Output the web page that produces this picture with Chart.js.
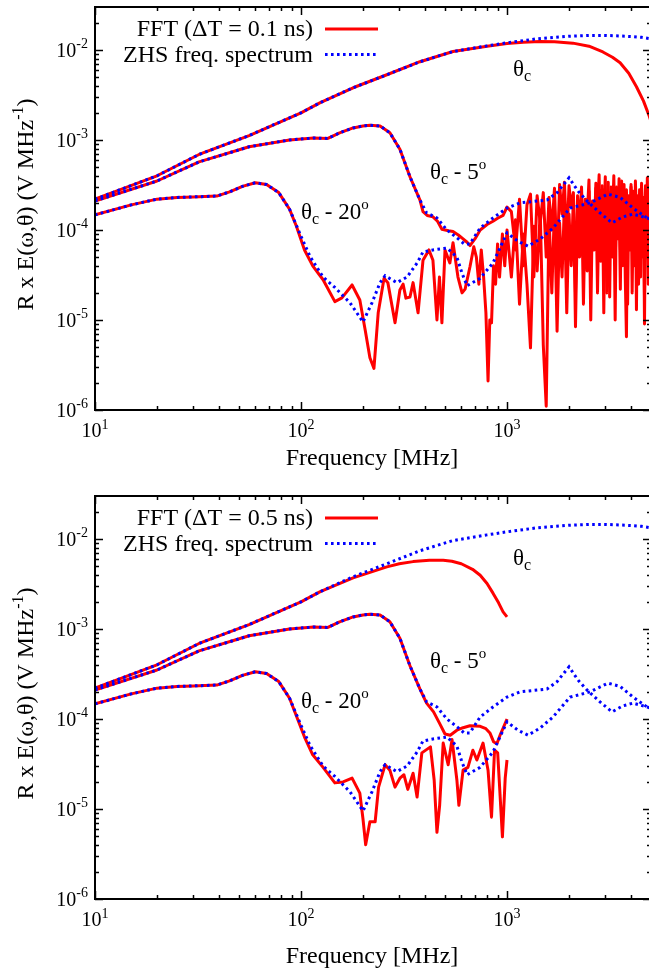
<!DOCTYPE html>
<html>
<head>
<meta charset="utf-8">
<script src="https://cdn.jsdelivr.net/npm/chart.js@4.4.1/dist/chart.umd.min.js"></script>
<style>
  html, body { margin: 0; padding: 0; background: #fff; overflow: hidden; }
  canvas { display: block; }
</style>
</head>
<body>
<canvas id="top" width="660" height="485"></canvas>
<canvas id="bottom" width="660" height="486"></canvas>
<script>
// ZHS frequency spectra (same in both panels)
const zhsFreqC = [10, 20, 32, 56, 100, 124, 179, 261, 378, 547, 800, 1000, 1400, 2000, 2500, 3000, 3500, 4000, 4500, 5000];
const zhsC = [2.2e-4, 4.0e-4, 6.9e-4, 1.12e-3, 2.0e-3, 2.6e-3, 3.8e-3, 5.3e-3, 7.4e-3, 9.6e-3, 1.11e-2, 1.2e-2, 1.33e-2, 1.42e-2, 1.45e-2, 1.45e-2, 1.43e-2, 1.41e-2, 1.38e-2, 1.33e-2];

const zhsFreq5 = [10, 20, 32, 56, 88, 115, 135, 154, 179, 200, 216, 242, 270, 302, 338, 378, 407, 457, 511, 571, 620, 660, 740, 855, 1000, 1156, 1563, 1750, 2000, 2213, 2445, 2826, 3235, 3656, 4093, 4786, 5000];
const zhs5 = [2.1e-4, 3.5e-4, 5.7e-4, 8.4e-4, 1.0e-3, 1.05e-3, 1.04e-3, 1.2e-3, 1.36e-3, 1.43e-3, 1.46e-3, 1.43e-3, 1.2e-3, 7.9e-4, 3.9e-4, 2.15e-4, 1.55e-4, 1.36e-4, 1.0e-4, 8.2e-5, 7.0e-5, 7.0e-5, 1.05e-4, 1.36e-4, 1.75e-4, 2.0e-4, 2.15e-4, 2.6e-4, 3.8e-4, 2.7e-4, 2.1e-4, 1.55e-4, 1.2e-4, 1.4e-4, 1.5e-4, 1.36e-4, 1.3e-4];

const zhsFreq20 = [10, 15, 20, 25, 30, 39, 45, 52, 60, 68, 78, 88, 100, 111, 128, 146, 173, 200, 221, 242, 256, 292, 327, 366, 391, 437, 511, 571, 605, 640, 740, 855, 1000, 1130, 1265, 1445, 1671, 2023, 2530, 3090, 3540, 4093, 4786, 5000];
const zhs20 = [1.47e-4, 1.9e-4, 2.2e-4, 2.3e-4, 2.33e-4, 2.38e-4, 2.65e-4, 3.05e-4, 3.35e-4, 3.2e-4, 2.6e-4, 1.7e-4, 8.5e-5, 5.0e-5, 3.0e-5, 2.3e-5, 1.55e-5, 9.5e-6, 1.55e-5, 2.6e-5, 3.1e-5, 2.6e-5, 3.0e-5, 4.3e-5, 5.7e-5, 6.0e-5, 6.3e-5, 5.0e-5, 3.3e-5, 2.4e-5, 2.9e-5, 4.3e-5, 9.3e-5, 7.5e-5, 6.6e-5, 7.9e-5, 1.05e-4, 1.75e-4, 2.0e-4, 2.5e-4, 2.3e-4, 1.75e-4, 1.36e-4, 1.35e-4];

// FFT, dT = 0.1 ns (top panel)
const fftFreqC1 = [10, 20, 32, 56, 100, 124, 179, 261, 378, 547, 800, 1000, 1200, 1445, 1700, 2090, 2500, 2920, 3250, 3540, 3900, 4250, 4600, 4900, 5000];
const fftC1 = [2.2e-4, 4.0e-4, 6.9e-4, 1.12e-3, 2.0e-3, 2.6e-3, 3.8e-3, 5.3e-3, 7.4e-3, 9.6e-3, 1.1e-2, 1.18e-2, 1.22e-2, 1.24e-2, 1.23e-2, 1.19e-2, 1.1e-2, 9.5e-3, 8.3e-3, 7.2e-3, 5.5e-3, 3.9e-3, 2.7e-3, 1.85e-3, 1.6e-3];

const fftFreq5a = [10, 20, 32, 56, 88, 115, 135, 154, 179, 200, 216, 242, 270, 302, 338, 378, 391, 410, 437, 460, 483, 520, 547, 580, 610, 640, 661, 700, 741, 800, 855, 900, 957, 1000];
const fft5a = [2.1e-4, 3.5e-4, 5.7e-4, 8.4e-4, 1.0e-3, 1.05e-3, 1.04e-3, 1.2e-3, 1.36e-3, 1.43e-3, 1.46e-3, 1.43e-3, 1.2e-3, 7.9e-4, 3.9e-4, 2.15e-4, 1.6e-4, 1.45e-4, 1.4e-4, 1.25e-4, 1.02e-4, 9.8e-5, 9.6e-5, 8.8e-5, 8.0e-5, 7.3e-5, 6.7e-5, 8.0e-5, 1.0e-4, 1.15e-4, 1.25e-4, 1.35e-4, 1.45e-4, 1.8e-4];

const fftFreq20a = [10, 15, 20, 25, 30, 39, 45, 52, 60, 68, 78, 88, 95, 104, 114, 128, 146, 158, 177, 193, 205, 216, 226, 237, 253, 264, 286, 302, 313, 323, 338, 350, 370, 391, 418, 437, 457, 470, 483, 500, 528, 547, 578, 605, 626, 661, 690, 710, 730, 750, 770, 790, 809, 825, 841, 860, 880, 900, 920, 950, 975, 1000];
const fft20a = [1.47e-4, 1.9e-4, 2.2e-4, 2.3e-4, 2.33e-4, 2.38e-4, 2.65e-4, 3.05e-4, 3.35e-4, 3.2e-4, 2.6e-4, 1.7e-4, 1.1e-4, 6.0e-5, 4.0e-5, 2.8e-5, 1.6e-5, 1.76e-5, 2.45e-5, 1.67e-5, 7.7e-6, 3.8e-6, 2.9e-6, 1.2e-5, 2.9e-5, 2.6e-5, 9.3e-6, 2.15e-5, 2.5e-5, 1.75e-5, 1.8e-5, 2.6e-5, 1.2e-5, 4.6e-5, 6.0e-5, 4.6e-5, 1.0e-5, 3.0e-5, 9.3e-6, 6.0e-5, 4.3e-5, 7.2e-5, 3.0e-5, 2.0e-5, 2.2e-5, 3.9e-5, 6.5e-5, 5.0e-5, 2.5e-5, 6.0e-5, 3.0e-5, 1.2e-5, 2.1e-6, 1.0e-5, 9.3e-6, 4.0e-5, 2.5e-5, 7.0e-5, 3.0e-5, 9.0e-5, 4.0e-5, 1.0e-4];

// high-frequency part of the 0.1 ns FFT (noisy)
const hfFreq = [1050, 1100, 1150, 1200, 1250, 1300, 1350, 1400, 1450, 1500, 1550, 1600, 1650, 1700, 1750, 1800, 1850, 1900, 1950, 2000,
  2050, 2100, 2150, 2200, 2250, 2300, 2350, 2400, 2450, 2500, 2550, 2600, 2650, 2700, 2750, 2800, 2850, 2900, 2950, 3000,
  3050, 3100, 3150, 3200, 3250, 3300, 3350, 3400, 3450, 3500, 3550, 3600, 3650, 3700, 3750, 3800, 3850, 3900, 3950, 4000,
  4050, 4100, 4150, 4200, 4250, 4300, 4350, 4400, 4450, 4500, 4550, 4600, 4650, 4700, 4750, 4800, 4850, 4900, 4950, 5000];
const hf5 = [1.6e-4, 6.0e-5, 2.2e-4, 4.0e-5, 1.9e-4, 2.5e-4, 3.0e-5, 2.4e-4, 1.2e-4, 2.6e-4, 5.0e-5, 2.3e-4, 1.0e-4, 2.9e-4, 4.0e-5, 3.2e-4, 1.5e-4, 3.4e-4, 7.0e-5, 3.1e-4,
  1.8e-4, 2.6e-4, 2.0e-5, 2.4e-4, 1.1e-4, 3.0e-4, 6.0e-5, 2.2e-4, 1.4e-4, 3.6e-4, 3.0e-5, 2.0e-4, 9.0e-5, 3.3e-4, 1.6e-4, 4.1e-4, 5.0e-5, 2.8e-4, 1.2e-4, 3.9e-4,
  2.0e-5, 2.5e-4, 8.0e-5, 3.0e-4, 1.3e-4, 4.0e-4, 4.0e-5, 2.2e-4, 1.0e-4, 3.7e-4, 6.0e-5, 2.6e-4, 1.5e-4, 3.2e-4, 3.0e-5, 6.5e-6, 1.8e-4, 2.4e-4, 7.0e-5, 3.0e-4,
  1.1e-4, 2.7e-4, 4.0e-5, 3.5e-4, 1.4e-4, 2.1e-4, 2.5e-5, 2.8e-4, 9.0e-5, 3.3e-4, 5.0e-5, 2.3e-4, 9.0e-6, 2.6e-4, 1.2e-4, 3.8e-4, 6.0e-5, 2.5e-4, 1.0e-4, 2.0e-4];
const hf20 = [3.0e-5, 1.3e-4, 1.5e-5, 9.0e-5, 2.5e-5, 4.9e-6, 1.1e-4, 3.5e-5, 1.6e-4, 5.3e-6, 1.1e-6, 1.4e-4, 2.0e-5, 1.8e-4, 7.5e-6, 1.2e-4, 3.0e-5, 2.0e-4, 1.2e-5, 1.5e-4,
  4.0e-5, 2.3e-4, 8.4e-6, 1.7e-4, 5.0e-5, 2.5e-4, 1.5e-5, 1.9e-4, 3.5e-5, 2.7e-4, 1.0e-5, 2.1e-4, 6.0e-5, 2.9e-4, 2.0e-5, 2.2e-4, 4.5e-5, 3.1e-4, 1.2e-5, 2.4e-4,
  7.0e-5, 3.4e-4, 1.8e-5, 2.6e-4, 5.0e-5, 2.0e-4, 1.0e-5, 3.0e-4, 8.0e-5, 2.3e-4, 2.2e-5, 3.5e-4, 4.0e-5, 1.9e-4, 1.1e-4, 2.8e-4, 1.5e-5, 2.1e-4, 6.0e-5, 3.2e-4,
  2.0e-5, 1.6e-4, 9.0e-5, 2.6e-4, 1.3e-5, 2.4e-4, 7.0e-5, 1.8e-4, 3.0e-5, 2.9e-4, 1.1e-4, 2.0e-4, 1.8e-5, 3.1e-4, 5.0e-5, 1.9e-4, 2.5e-5, 2.7e-4, 8.0e-5, 1.6e-4];

// FFT, dT = 0.5 ns (bottom panel, ends at 1 GHz)
const fftFreqC2 = [10, 20, 32, 56, 100, 124, 179, 261, 300, 350, 420, 490, 540, 600, 680, 741, 800, 855, 910, 957, 1000];
const fftC2 = [2.2e-4, 4.0e-4, 6.9e-4, 1.12e-3, 2.0e-3, 2.6e-3, 3.7e-3, 4.9e-3, 5.3e-3, 5.6e-3, 5.8e-3, 5.8e-3, 5.65e-3, 5.3e-3, 4.6e-3, 3.95e-3, 3.2e-3, 2.5e-3, 1.95e-3, 1.55e-3, 1.36e-3];

const fftFreq5b = [10, 20, 32, 56, 88, 115, 135, 154, 179, 200, 216, 242, 270, 302, 338, 378, 407, 440, 470, 500, 530, 571, 612, 661, 741, 790, 826, 860, 893, 930, 960, 1000];
const fft5b = [2.1e-4, 3.5e-4, 5.7e-4, 8.4e-4, 1.0e-3, 1.05e-3, 1.04e-3, 1.2e-3, 1.36e-3, 1.43e-3, 1.46e-3, 1.43e-3, 1.2e-3, 7.9e-4, 3.9e-4, 2.15e-4, 1.5e-4, 1.2e-4, 9.0e-5, 6.8e-5, 6.6e-5, 7.5e-5, 8.0e-5, 8.4e-5, 8.3e-5, 7.8e-5, 7.0e-5, 5.6e-5, 5.3e-5, 6.8e-5, 8.0e-5, 1.0e-4];

const fftFreq20b = [10, 15, 20, 25, 30, 39, 45, 52, 60, 68, 78, 88, 104, 114, 128, 146, 160, 177, 193, 200, 206, 216, 229, 238, 256, 270, 286, 302, 316, 330, 350, 366, 386, 425, 443, 457, 471, 490, 518, 541, 571, 584, 612, 646, 683, 714, 765, 809, 841, 870, 901, 950, 980, 1000];
const fft20b = [1.47e-4, 1.9e-4, 2.2e-4, 2.3e-4, 2.33e-4, 2.38e-4, 2.65e-4, 3.05e-4, 3.35e-4, 3.2e-4, 2.6e-4, 1.7e-4, 6.3e-5, 4.0e-5, 2.9e-5, 1.95e-5, 2.0e-5, 2.2e-5, 1.5e-5, 7.7e-6, 4.0e-6, 7.2e-6, 7.2e-6, 1.75e-5, 3.1e-5, 2.7e-5, 1.75e-5, 2.2e-5, 2.4e-5, 1.65e-5, 2.5e-5, 1.36e-5, 4.2e-5, 4.9e-5, 2.1e-5, 5.5e-6, 1.1e-5, 5.4e-5, 3.1e-5, 5.9e-5, 2.1e-5, 1.1e-5, 2.7e-5, 2.9e-5, 4.5e-5, 3.5e-5, 5.4e-5, 2.7e-5, 8.1e-6, 4.5e-5, 4.2e-5, 4.9e-6, 2.2e-5, 3.5e-5];

const xMin = 10, xMax = 5000;
const yMin = 1e-6, yMax = 0.03;
const xDecades = [1, 2, 3];
const yDecades = [-6, -5, -4, -3, -2];

const SERIF = '"Liberation Serif", "Times New Roman", serif';
const RED = '#ff0000', BLUE = '#0000ff';

function pts(xs, ys) {
  return xs.map((x, i) => ({ x: x, y: ys[i] }));
}

// write a row of text pieces (for super/subscripts)
function runs(ctx, parts, x, y, align) {
  let w = 0;
  parts.forEach(p => { ctx.font = p[1] + 'px ' + SERIF; p.w = ctx.measureText(p[0]).width; w += p.w; });
  let cx = align === 'right' ? x - w : align === 'center' ? x - w / 2 : x;
  parts.forEach(p => {
    ctx.font = p[1] + 'px ' + SERIF;
    ctx.fillText(p[0], cx, y + (p[2] || 0));
    cx += p.w;
  });
}

const framePlugin = {
  id: 'frame',
  afterDraw(chart, args, o) {
    const { ctx, chartArea: a, scales: { x, y } } = chart;
    ctx.save();
    ctx.strokeStyle = '#000';
    ctx.fillStyle = '#000';
    ctx.textAlign = 'left';
    ctx.textBaseline = 'alphabetic';

    // ticks, inward, on all sides
    ctx.lineWidth = 1.5;
    ctx.beginPath();
    for (let e = 1; e <= 3; e++) {
      for (let m = 1; m <= 9; m++) {
        const v = m * Math.pow(10, e);
        if (v >= xMax) continue;
        const px = Math.round(x.getPixelForValue(v)) + 0.5;
        const len = m === 1 ? 8 : 4;
        ctx.moveTo(px, a.bottom); ctx.lineTo(px, a.bottom - len);
        ctx.moveTo(px, a.top); ctx.lineTo(px, a.top + len);
      }
    }
    for (let e = -6; e <= -2; e++) {
      for (let m = 1; m <= 9; m++) {
        const v = m * Math.pow(10, e);
        if (v >= yMax) continue;
        const py = Math.round(y.getPixelForValue(v)) + 0.5;
        const len = m === 1 ? 8 : 4;
        ctx.moveTo(a.left, py); ctx.lineTo(a.left + len, py);
        ctx.moveTo(a.right, py); ctx.lineTo(a.right - len, py);
      }
    }
    ctx.stroke();

    ctx.lineWidth = 2;
    ctx.strokeRect(a.left, a.top, a.right - a.left, a.bottom - a.top);

    // tick labels
    xDecades.forEach(e => {
      runs(ctx, [['10', 20], [String(e), 14, -8]], x.getPixelForValue(Math.pow(10, e)), a.bottom + 27, 'center');
    });
    yDecades.forEach(e => {
      runs(ctx, [['10', 20], [String(e), 14, -9]], a.left - 7, y.getPixelForValue(Math.pow(10, e)) + 7, 'right');
    });

    // axis titles
    runs(ctx, [['Frequency [MHz]', 24]], (a.left + a.right) / 2 - 1, a.bottom + o.titleDy, 'center');
    ctx.save();
    ctx.translate(33, (a.top + a.bottom) / 2 - 4);
    ctx.rotate(-Math.PI / 2);
    runs(ctx, [['R x E(\u03c9,\u03b8) (V MHz', 24], ['-1', 16, -10], [')', 24]], 0, 0, 'center');
    ctx.restore();

    // key
    const k1 = a.top + 22, k2 = a.top + 47.5;
    runs(ctx, [[o.fftLabel, 24]], 313, k1 + 7, 'right');
    runs(ctx, [['ZHS freq. spectrum', 24]], 313, k2 + 7, 'right');
    ctx.lineWidth = 3;
    ctx.strokeStyle = RED;
    ctx.beginPath(); ctx.moveTo(325, k1); ctx.lineTo(378, k1); ctx.stroke();
    ctx.strokeStyle = BLUE;
    ctx.setLineDash([2.6, 3.4]);
    ctx.beginPath(); ctx.moveTo(325, k2); ctx.lineTo(378, k2); ctx.stroke();
    ctx.setLineDash([]);

    // curve labels
    runs(ctx, [['\u03b8', 23], ['c', 16, 5]], 513, a.top + 68.5, 'left');
    runs(ctx, [['\u03b8', 23], ['c', 16, 5], [' - 5', 23], ['o', 15, -10]], 430, a.top + 171.5, 'left');
    runs(ctx, [['\u03b8', 23], ['c', 16, 5], [' - 20', 23], ['o', 15, -10]], 301, a.top + 212, 'left');
    ctx.restore();
  }
};

function redLine(data) {
  return { data: data, borderColor: RED, borderWidth: 3, pointRadius: 0, tension: 0, fill: false, borderJoinStyle: 'round' };
}
function blueLine(data) {
  return { data: data, borderColor: BLUE, borderWidth: 3, borderDash: [2.6, 3.4], pointRadius: 0, tension: 0, fill: false };
}

function makeChart(id, padTop, xHeight, fftSets, fftLabel, titleDy) {
  // blue first so it is drawn on top of the red lines
  const datasets = [
    blueLine(pts(zhsFreqC, zhsC)),
    blueLine(pts(zhsFreq5, zhs5)),
    blueLine(pts(zhsFreq20, zhs20))
  ].concat(fftSets.map(redLine));
  return new Chart(document.getElementById(id), {
    type: 'line',
    data: { datasets: datasets },
    options: {
      responsive: false,
      animation: false,
      layout: { padding: { left: 0, right: 9, top: padTop, bottom: 0 } },
      plugins: { legend: { display: false }, tooltip: { enabled: false }, frame: { fftLabel: fftLabel, titleDy: titleDy } },
      scales: {
        x: {
          type: 'logarithmic', min: xMin, max: xMax,
          ticks: { display: false }, grid: { display: false }, border: { display: false },
          afterFit: s => { s.height = xHeight; }
        },
        y: {
          type: 'logarithmic', min: yMin, max: yMax,
          ticks: { display: false }, grid: { display: false }, border: { display: false },
          afterFit: s => { s.width = 95; }
        }
      }
    },
    plugins: [framePlugin]
  });
}

makeChart('top', 7, 75, [
  pts(fftFreqC1, fftC1),
  pts(fftFreq5a.concat(hfFreq), fft5a.concat(hf5)),
  pts(fftFreq20a.concat(hfFreq), fft20a.concat(hf20))
], 'FFT (\u0394T = 0.1 ns)', 55);

makeChart('bottom', 11, 72, [
  pts(fftFreqC2, fftC2),
  pts(fftFreq5b, fft5b),
  pts(fftFreq20b, fft20b)
], 'FFT (\u0394T = 0.5 ns)', 64);
</script>
</body>
</html>
